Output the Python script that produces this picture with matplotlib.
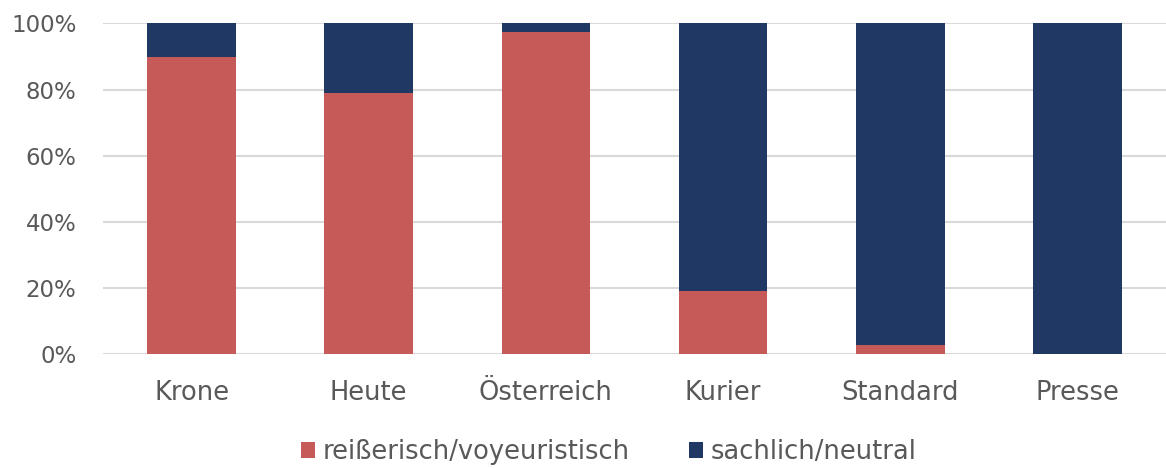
import matplotlib
matplotlib.use("Agg")
import matplotlib.pyplot as plt
import numpy as np

categories = ["Krone", "Heute", "Österreich", "Kurier", "Standard", "Presse"]
reisserisch = [90.0, 79.1, 97.5, 19.2, 2.8, 0.0]
sachlich = [10.0, 20.9, 2.5, 80.8, 97.2, 100.0]
series_names = ["reißerisch/voyeuristisch", "sachlich/neutral"]
yticks = [0, 20, 40, 60, 80, 100]
ytick_labels = ["0%", "20%", "40%", "60%", "80%", "100%"]

red = "#C55A58"
navy = "#203864"
txt = "#595959"

plt.rcParams['font.family'] = ['DejaVu Sans']
fig = plt.figure(figsize=(11.66, 4.68), dpi=100)
ax = fig.add_axes([103/1166, 1-354/468, (1166-103)/1166, (354-23.5)/468])

x = np.arange(len(categories))
ax.bar(x, reisserisch, width=0.5, color=red, label=series_names[0], zorder=3)
ax.bar(x, sachlich, width=0.5, bottom=reisserisch, color=navy, label=series_names[1], zorder=3)

ax.set_xlim(-0.5, len(categories) - 0.5)
ax.set_ylim(0, 100)
ax.set_yticks(yticks)
ax.set_yticklabels(ytick_labels)
ax.set_xticks(x)
ax.set_xticklabels(categories)
ax.tick_params(axis='x', length=0, labelsize=18.5, colors=txt, pad=19)
ax.tick_params(axis='y', length=0, labelsize=16.5, colors=txt, pad=19)
ax.grid(axis='y', color="#D9D9D9", linewidth=1.5, zorder=0)
for s in ax.spines.values():
    s.set_visible(False)

handles, labels = ax.get_legend_handles_labels()
fig.legend(handles, labels, loc='center', bbox_to_anchor=(609/1166, 1-452/468), ncol=2,
           frameon=False, fontsize=18.5, labelcolor=txt, handlelength=0.55, handleheight=0.55,
           handletextpad=0.3, columnspacing=2.3)

fig.savefig("out.png", dpi=100)
